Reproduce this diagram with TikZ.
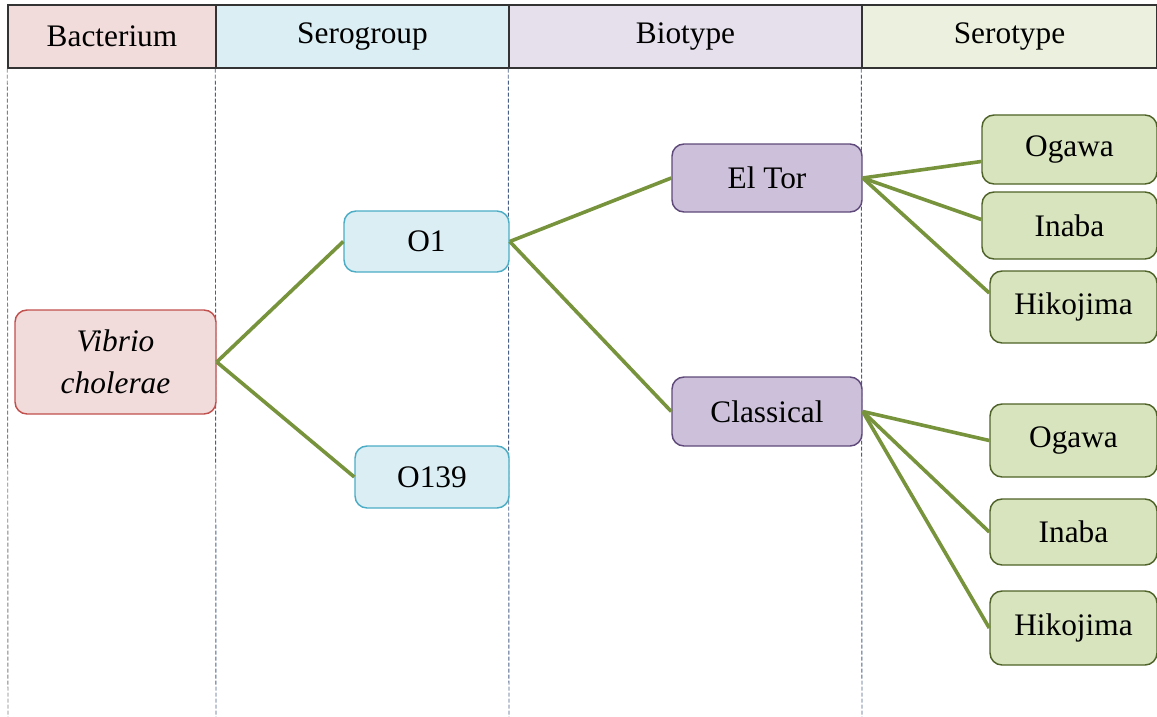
\documentclass[tikz,border=0pt]{standalone}
\usepackage{fontspec}
\setmainfont{Liberation Serif}
\usetikzlibrary{positioning}

\definecolor{pinkfill}{HTML}{F2DCDB}
\definecolor{pinkline}{HTML}{C0504D}
\definecolor{bluefill}{HTML}{DAEEF3}
\definecolor{blueline}{HTML}{4BACC6}
\definecolor{purpfill}{HTML}{CCC0DA}
\definecolor{purpline}{HTML}{5F497A}
\definecolor{purphead}{HTML}{E5E0EC}
\definecolor{grnfill}{HTML}{D7E4BD}
\definecolor{grnline}{HTML}{4F6228}
\definecolor{grnhead}{HTML}{EBF1DE}
\definecolor{link}{HTML}{77933C}
\definecolor{guide}{HTML}{4A5F85}

\begin{document}
\begin{tikzpicture}[x=0.75pt,y=-0.75pt,
  every node/.style={font=\fontsize{23.5}{31.5}\selectfont, inner sep=0pt},
  head/.style={draw=black!80, line width=1.1pt, rectangle, minimum height=47.25pt},
  box/.style={rectangle, rounded corners=9pt, line width=1.1pt},
  bact/.style={box, fill=pinkfill, draw=pinkline},
  sero/.style={box, fill=bluefill, draw=blueline},
  bio/.style={box, fill=purpfill, draw=purpline},
  stype/.style={box, fill=grnfill, draw=grnline},
  guideline/.style={guide, line width=0.7pt, dashed, dash pattern=on 3pt off 1.5pt},
  branch/.style={link, line width=2.7pt}]
\useasboundingbox (0,0) rectangle (1157,717);

% header
\node[head, fill=pinkfill, minimum width=156pt] (hbact) at (112,36.5) {Bacterium};
\node[head, fill=bluefill, minimum width=219.75pt] (hsero) at (362.5,36.5) {Serogroup};
\node[head, fill=purphead, minimum width=264.75pt] (hbio) at (685.5,36.5) {Biotype};
\node[head, fill=grnhead, minimum width=221.25pt] (hstype) at (1009.5,36.5) {Serotype};

% column guides
\coordinate (g0) at (8,717);
\coordinate (g1) at (216,717);
\coordinate (g2) at (509,717);
\coordinate (g3) at (862,717);
\draw[guideline, gray] (hbact.south west) -- (g0);
\draw[guideline] (hsero.south west) -- (g1);
\draw[guideline] (hbio.south west) -- (g2);
\draw[guideline] (hstype.south west) -- (g3);

% nodes
\node[bact, minimum width=150.75pt, minimum height=78pt, align=center] (vc) at (115.5,362)
  {\itshape Vibrio\\\itshape cholerae};

\node[sero, minimum width=123.75pt, minimum height=45.75pt] (o1) at (426.5,241.5) {O1};
\node[sero, minimum width=115.5pt, minimum height=46.5pt] (o139) at (432,477) {O139};

\node[bio, minimum width=142.5pt, minimum height=51pt] (eltor) at (767,178) {El Tor};
\node[bio, minimum width=142.5pt, minimum height=51.75pt] (classic) at (767,411.5) {Classical};

\node[stype, minimum width=131.25pt, minimum height=51.75pt] (ogawa1) at (1069.5,149.5) {Ogawa};
\node[stype, minimum width=131.25pt, minimum height=50.25pt] (inaba1) at (1069.5,225.5) {Inaba};
\node[stype, minimum width=125.25pt, minimum height=54pt] (hiko1) at (1073.5,307) {Hikojima};
\node[stype, minimum width=125.25pt, minimum height=54.75pt] (ogawa2) at (1073.5,440.5) {Ogawa};
\node[stype, minimum width=125.25pt, minimum height=49.5pt] (inaba2) at (1073.5,532) {Inaba};
\node[stype, minimum width=125.25pt, minimum height=55.5pt] (hiko2) at (1073.5,628) {Hikojima};

% branches
\draw[branch] (vc.east) -- (o1.west);
\draw[branch] (vc.east) -- (o139.west);
\draw[branch] (o1.east) -- (eltor.west);
\draw[branch] (o1.east) -- (classic.west);
\draw[branch] (eltor.east) -- ([yshift=-9pt]ogawa1.west);
\draw[branch] (eltor.east) -- ([yshift=4.5pt]inaba1.west);
\draw[branch] (eltor.east) -- ([yshift=10.5pt]hiko1.west);
\draw[branch] (classic.east) -- (ogawa2.west);
\draw[branch] (classic.east) -- (inaba2.west);
\draw[branch] (classic.east) -- (hiko2.west);

\end{tikzpicture}
\end{document}
